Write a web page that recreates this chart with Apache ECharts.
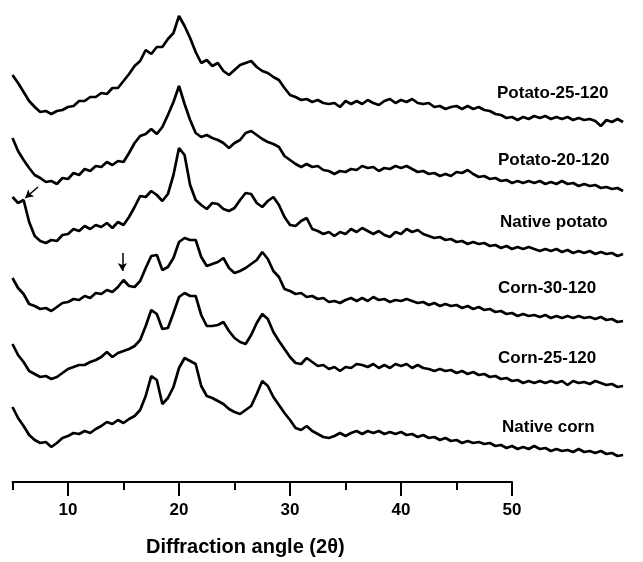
<!DOCTYPE html>
<html>
<head>
<meta charset="utf-8">
<title>XRD patterns</title>
<script src="https://cdn.jsdelivr.net/npm/echarts@6/dist/echarts.min.js"></script>
<style>
  html, body { margin: 0; padding: 0; background: #fff; }
  #xrdChart { width: 643px; height: 562px; }
</style>
</head>
<body>
<div id="xrdChart"></div>
<script>
// diffraction angle grid (2θ, step 0.5)
const angles = [5,5.5,6,6.5,7,7.5,8,8.5,9,9.5,10,10.5,11,11.5,12,12.5,13,13.5,14,14.5,
  15,15.5,16,16.5,17,17.5,18,18.5,19,19.5,20,20.5,21,21.5,22,22.5,23,23.5,24,24.5,
  25,25.5,26,26.5,27,27.5,28,28.5,29,29.5,30,30.5,31,31.5,32,32.5,33,33.5,34,34.5,
  35,35.5,36,36.5,37,37.5,38,38.5,39,39.5,40,40.5,41,41.5,42,42.5,43,43.5,44,44.5,
  45,45.5,46,46.5,47,47.5,48,48.5,49,49.5,50,50.5,51,51.5,52,52.5,53,53.5,54,54.5,
  55,55.5,56,56.5,57,57.5,58,58.5,59,59.5,60];

// intensities (a.u., curves already stacked with offsets)
const potato25 = [425,417,408,399,393,388,389,386,389,390,
  393,394,399,399,403,403,407,406,412,412,
  419,426,434,439,450,446,453,453,461,467,
  484,474,462,448,437,440,434,437,429,425,
  430,435,437,439,433,429,427,423,420,412,
  405,403,400,401,398,400,397,396,397,393,
  399,396,399,396,400,397,395,399,401,397,
  400,398,401,397,396,397,393,394,391,393,
  394,391,394,391,393,390,389,386,385,382,
  383,380,383,381,384,382,384,381,383,381,
  383,380,382,380,381,379,374,380,378,381,378];

const potato20 = [362,349,340,332,325,322,318,319,316,322,
  321,327,325,331,329,334,333,338,335,339,
  338,347,357,364,366,371,366,373,385,398,
  414,396,380,367,363,365,362,360,357,352,
  357,360,367,369,365,361,358,356,353,344,
  340,336,333,336,333,334,330,329,326,329,
  328,331,330,334,332,333,329,332,331,334,
  332,334,331,328,329,326,327,324,326,324,
  328,327,330,326,323,324,321,322,319,320,
  317,319,317,319,317,319,316,318,316,319,
  316,317,314,316,314,315,312,313,311,312,309];

const nativePotato = [303,297,300,278,264,259,257,260,259,265,
  266,271,269,274,271,275,273,277,272,278,
  275,283,293,304,303,309,305,299,306,325,
  352,345,315,300,295,291,297,296,291,289,
  292,300,307,306,297,293,299,303,295,283,
  275,274,279,282,271,269,266,268,264,268,
  266,271,268,272,269,266,269,265,263,268,
  266,271,268,270,266,264,262,263,260,261,
  258,259,256,258,256,257,254,255,252,254,
  251,253,251,253,251,249,251,249,251,248,
  250,247,249,247,249,246,248,246,247,244,246];

const corn30 = [222,212,206,196,194,191,192,189,193,197,
  198,201,200,204,202,207,206,210,208,213,
  220,214,213,219,232,244,245,230,233,242,
  258,262,260,260,243,234,236,238,242,232,
  227,229,232,236,240,248,241,229,223,211,
  209,206,207,203,204,201,202,198,199,197,
  200,202,199,202,199,203,200,201,198,200,
  199,201,199,197,198,195,197,194,196,194,
  195,192,194,191,193,190,191,188,189,186,
  187,184,186,184,185,183,185,182,184,182,
  184,182,184,182,183,181,183,180,181,178,179];

const corn25 = [156,145,138,129,126,123,124,121,123,127,
  131,133,135,135,138,140,143,148,143,147,
  149,151,154,160,174,190,186,171,172,187,
  203,207,204,204,185,174,174,175,178,169,
  162,158,156,165,177,186,181,168,159,151,
  143,137,136,142,138,134,135,131,133,129,
  133,132,136,135,133,136,132,135,132,136,
  134,136,132,135,132,131,129,131,129,130,
  127,129,126,128,125,126,123,124,121,122,
  119,120,117,119,117,119,117,119,117,119,
  115,119,117,118,116,119,117,115,116,113,114];

const nativeCorn = [93,82,74,65,60,57,58,53,57,62,
  64,67,66,69,67,71,74,78,76,80,
  77,81,84,90,104,124,120,96,102,113,
  132,142,139,136,114,104,102,99,96,91,
  88,86,90,94,106,119,114,103,95,87,
  80,72,70,74,69,66,63,62,64,67,
  64,67,69,66,69,67,69,66,68,66,
  68,65,66,63,65,62,63,60,62,59,
  60,57,59,57,58,56,57,54,55,52,
  54,51,53,51,54,51,52,49,51,49,
  50,48,51,48,49,47,49,46,47,44,45];

const sampleNames = ['Potato-25-120', 'Potato-20-120', 'Native potato', 'Corn-30-120', 'Corn-25-120', 'Native corn'];
const majorTicks = [10, 20, 30, 40, 50];
const minorTicks = [5, 15, 25, 35, 45];

// arrows pointing at small peaks: [from, to] in (2θ, intensity)
const potatoArrow = [[7.3, 313], [6.15, 302]];
const cornArrow = [[14.9, 247], [14.9, 229]];

const curves = [potato25, potato20, nativePotato, corn30, corn25, nativeCorn];
const labelPos = [[497, 94], [498, 161], [500, 223], [498, 289], [498, 359], [502, 428]];

const FONT = "'Liberation Sans', Arial, sans-serif";

const chart = echarts.init(document.getElementById('xrdChart'));

const arrowLine = (pts) => ({
  silent: true,
  symbol: ['none', 'arrow'],
  symbolSize: [7, 8],
  label: { show: false },
  lineStyle: { color: '#000', width: 1.5, type: 'solid' },
  data: [[{ coord: pts[0] }, { coord: pts[1] }]],
});

const series = curves.map((vals, i) => {
  const s = {
    name: sampleNames[i],
    type: 'line',
    xAxisIndex: 2,
    yAxisIndex: 1,
    showSymbol: false,
    symbol: 'none',
    data: angles.map((a, k) => [a, vals[k]]),
    lineStyle: { color: '#000', width: 2.7 },
    itemStyle: { color: '#000' },
  };
  if (i === 2) s.markLine = arrowLine(potatoArrow);
  if (i === 3) s.markLine = arrowLine(cornArrow);
  return s;
});

const option = {
  animation: false,
  backgroundColor: '#fff',
  grid: [
    // axis frame (2θ 5..50)
    { left: 12.5, width: 499.5, top: 0, height: 482 },
    // curves run past 50 on the right
    { left: 12.5, width: 615, top: 0, height: 482 },
  ],
  xAxis: [
    {
      gridIndex: 0,
      type: 'value',
      position: 'bottom',
      min: 5,
      max: 50,
      axisLine: { show: true, lineStyle: { color: '#000', width: 2 } },
      axisTick: { show: true, customValues: majorTicks, length: 14, lineStyle: { color: '#000', width: 2 } },
      axisLabel: {
        show: true,
        customValues: majorTicks,
        margin: 20,
        color: '#000',
        fontSize: 17,
        fontWeight: 'bold',
        fontFamily: FONT,
      },
      splitLine: { show: false },
    },
    {
      gridIndex: 0,
      type: 'value',
      position: 'bottom',
      offset: 0,
      min: 5,
      max: 50,
      axisLine: { show: false },
      axisTick: { show: true, customValues: minorTicks, length: 8, lineStyle: { color: '#000', width: 2 } },
      axisLabel: { show: false },
      splitLine: { show: false },
    },
    {
      gridIndex: 1,
      type: 'value',
      min: 5,
      max: 60.4,
      show: false,
    },
  ],
  yAxis: [
    { gridIndex: 0, type: 'value', min: 0, max: 1, show: false },
    { gridIndex: 1, type: 'value', min: 18, max: 500, show: false },
  ],
  graphic: sampleNames.map((name, i) => ({
    type: 'text',
    left: labelPos[i][0],
    top: labelPos[i][1] - 9,
    style: {
      text: name,
      fill: '#000',
      font: 'bold 17px ' + FONT,
    },
  })).concat([{
    type: 'text',
    left: 146,
    top: 537,
    style: {
      text: 'Diffraction angle (2θ)',
      fill: '#000',
      font: 'bold 20px ' + FONT,
    },
  }]),
  series: series,
};

chart.setOption(option);
</script>
</body>
</html>
